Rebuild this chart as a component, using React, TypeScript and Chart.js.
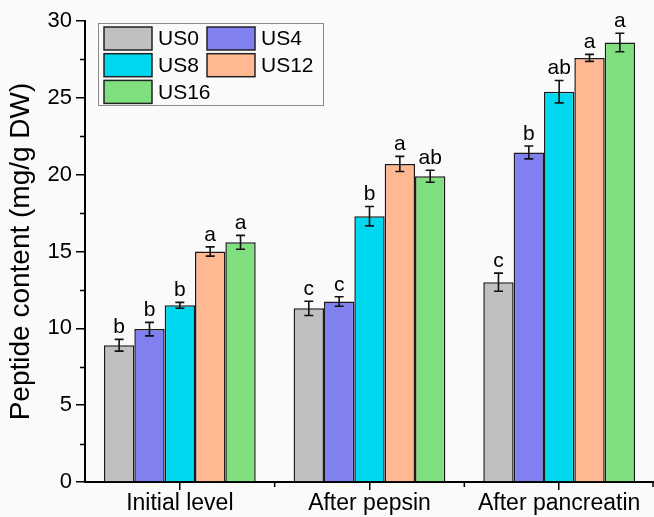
import React, { useEffect, useRef } from "react";
import { Chart, registerables } from "chart.js";

Chart.register(...registerables);

const categories = ["Initial level", "After pepsin", "After pancreatin"];
const seriesNames = ["US0", "US4", "US8", "US12", "US16"];
const seriesColors = ["#C0C0C0", "#8080F0", "#00D8F0", "#FFB891", "#80E080"];

const us0 = [8.9, 11.3, 13.0];
const us4 = [9.95, 11.75, 21.45];
const us8 = [11.5, 17.3, 25.4];
const us12 = [15.0, 20.7, 27.6];
const us16 = [15.6, 19.9, 28.6];

const us0Err = [0.38, 0.46, 0.59];
const us4Err = [0.44, 0.31, 0.42];
const us8Err = [0.19, 0.63, 0.73];
const us12Err = [0.3, 0.49, 0.23];
const us16Err = [0.45, 0.39, 0.6];

const us0Letters = ["b", "c", "c"];
const us4Letters = ["b", "c", "b"];
const us8Letters = ["b", "b", "ab"];
const us12Letters = ["a", "a", "a"];
const us16Letters = ["a", "ab", "a"];

const yTicks = [0, 5, 10, 15, 20, 25, 30];
const yTitle = "Peptide content (mg/g DW)";

const values = [us0, us4, us8, us12, us16];
const errors = [us0Err, us4Err, us8Err, us12Err, us16Err];
const letters = [us0Letters, us4Letters, us8Letters, us12Letters, us16Letters];

const FONT = "'Liberation Sans', Arial, Helvetica, sans-serif";

const bgPlugin = {
  id: "bgFill",
  beforeDraw(chart: any) {
    const ctx = chart.ctx;
    ctx.save();
    ctx.fillStyle = "#fafafa";
    ctx.fillRect(0, 0, chart.width, chart.height);
    ctx.restore();
  },
};

const errorPlugin = {
  id: "errorBars",
  afterDatasetsDraw(chart: any) {
    const ctx = chart.ctx;
    const y = chart.scales.y;
    ctx.save();
    ctx.strokeStyle = "#111";
    ctx.lineWidth = 1.6;
    ctx.fillStyle = "#000";
    ctx.font = `21px ${FONT}`;
    ctx.textAlign = "center";
    ctx.textBaseline = "alphabetic";
    chart.data.datasets.forEach((ds: any, i: number) => {
      const meta = chart.getDatasetMeta(i);
      meta.data.forEach((el: any, j: number) => {
        const v = ds.data[j];
        const e = errors[i][j];
        const x = el.x;
        const yt = y.getPixelForValue(v + e);
        const yb = y.getPixelForValue(v - e);
        const cap = 4.5;
        ctx.beginPath();
        ctx.moveTo(x, yt);
        ctx.lineTo(x, yb);
        ctx.moveTo(x - cap, yt);
        ctx.lineTo(x + cap, yt);
        ctx.moveTo(x - cap, yb);
        ctx.lineTo(x + cap, yb);
        ctx.stroke();
        ctx.fillText(letters[i][j], x, yt - 6);
      });
    });
    ctx.restore();
  },
};

const minorTickPlugin = {
  id: "minorTicks",
  afterDraw(chart: any) {
    const ctx = chart.ctx;
    const y = chart.scales.y;
    const x = chart.scales.x;
    const area = chart.chartArea;
    ctx.save();
    ctx.strokeStyle = "#000";
    ctx.lineWidth = 1.5;
    ctx.beginPath();
    for (let k = 0; k < yTicks.length - 1; k++) {
      const v = (yTicks[k] + yTicks[k + 1]) / 2;
      const py = Math.round(y.getPixelForValue(v)) + 0.5;
      ctx.moveTo(area.left - 5, py);
      ctx.lineTo(area.left, py);
    }
    const n = categories.length;
    for (let k = 1; k <= n; k++) {
      const p0 = x.getPixelForValue(k - 1);
      const p1 = k < n ? x.getPixelForValue(k) : 2 * p0 - x.getPixelForValue(k - 2);
      let px = (p0 + p1) / 2;
      if (k === n) px = Math.min(px, chart.width - 1);
      ctx.moveTo(px, area.bottom);
      ctx.lineTo(px, area.bottom + 5);
    }
    ctx.stroke();
    ctx.restore();
  },
};

const legendPlugin = {
  id: "boxLegend",
  afterDraw(chart: any) {
    const ctx = chart.ctx;
    ctx.save();
    const bx = 98.5, by = 23.5, bw = 225, bh = 82;
    ctx.strokeStyle = "#8a8a8a";
    ctx.lineWidth = 1;
    ctx.strokeRect(bx, by, bw, bh);
    ctx.font = `21px ${FONT}`;
    ctx.textAlign = "left";
    ctx.textBaseline = "middle";
    chart.data.datasets.forEach((ds: any, i: number) => {
      const col = i % 2;
      const row = Math.floor(i / 2);
      const sx = col === 0 ? 104 : 207;
      const sy = 27 + row * 26.7;
      ctx.fillStyle = ds.backgroundColor;
      ctx.fillRect(sx, sy, 48, 23);
      ctx.strokeStyle = "#222";
      ctx.lineWidth = 1.5;
      ctx.strokeRect(sx, sy, 48, 23);
      ctx.fillStyle = "#000";
      ctx.fillText(ds.label, sx + 54, sy + 12.5);
    });
    ctx.restore();
  },
};

export default function App() {
  const ref = useRef<HTMLCanvasElement | null>(null);

  useEffect(() => {
    if (!ref.current) return;
    const chart = new Chart(ref.current, {
      type: "bar",
      data: {
        labels: categories,
        datasets: seriesNames.map((name, i) => ({
          label: name,
          data: values[i],
          backgroundColor: seriesColors[i],
          borderColor: "#1a1a1a",
          borderWidth: 1.5,
          barPercentage: 1.0,
          categoryPercentage: 0.8,
        })),
      },
      options: {
        responsive: true,
        maintainAspectRatio: false,
        animation: false,
        layout: { padding: { top: 21, right: 0, left: 0, bottom: 0 } },
        plugins: {
          legend: { display: false },
          tooltip: { enabled: false },
        },
        scales: {
          x: {
            offset: true,
            grid: {
              display: true,
              offset: false,
              drawOnChartArea: false,
              drawTicks: true,
              tickLength: 8,
              color: "#000",
              lineWidth: 1.5,
            },
            border: { display: true, color: "#000", width: 2 },
            ticks: { color: "#000", font: { family: FONT, size: 23 }, padding: 0, maxRotation: 0 },
            afterFit: (s: any) => {
              s.height = 35;
            },
          },
          y: {
            min: 0,
            max: 30,
            afterBuildTicks: (s: any) => {
              s.ticks = yTicks.map((v) => ({ value: v }));
            },
            grid: {
              display: true,
              drawOnChartArea: false,
              drawTicks: true,
              tickLength: 9,
              color: "#000",
              lineWidth: 1.5,
            },
            border: { display: true, color: "#000", width: 2 },
            ticks: { color: "#000", font: { family: FONT, size: 22 }, padding: 4 },
            title: {
              display: true,
              text: yTitle,
              color: "#000",
              font: { family: FONT, size: 28 },
              padding: { top: 4, bottom: 0 },
            },
            afterFit: (s: any) => {
              s.width = 85;
            },
          },
        },
      },
      plugins: [bgPlugin, errorPlugin, minorTickPlugin, legendPlugin],
    } as any);
    return () => chart.destroy();
  }, []);

  return (
    <div
      style={{
        position: "fixed",
        left: 0,
        top: 0,
        width: 654,
        height: 517,
        background: "#fafafa",
      }}
    >
      <canvas ref={ref} />
    </div>
  );
}
